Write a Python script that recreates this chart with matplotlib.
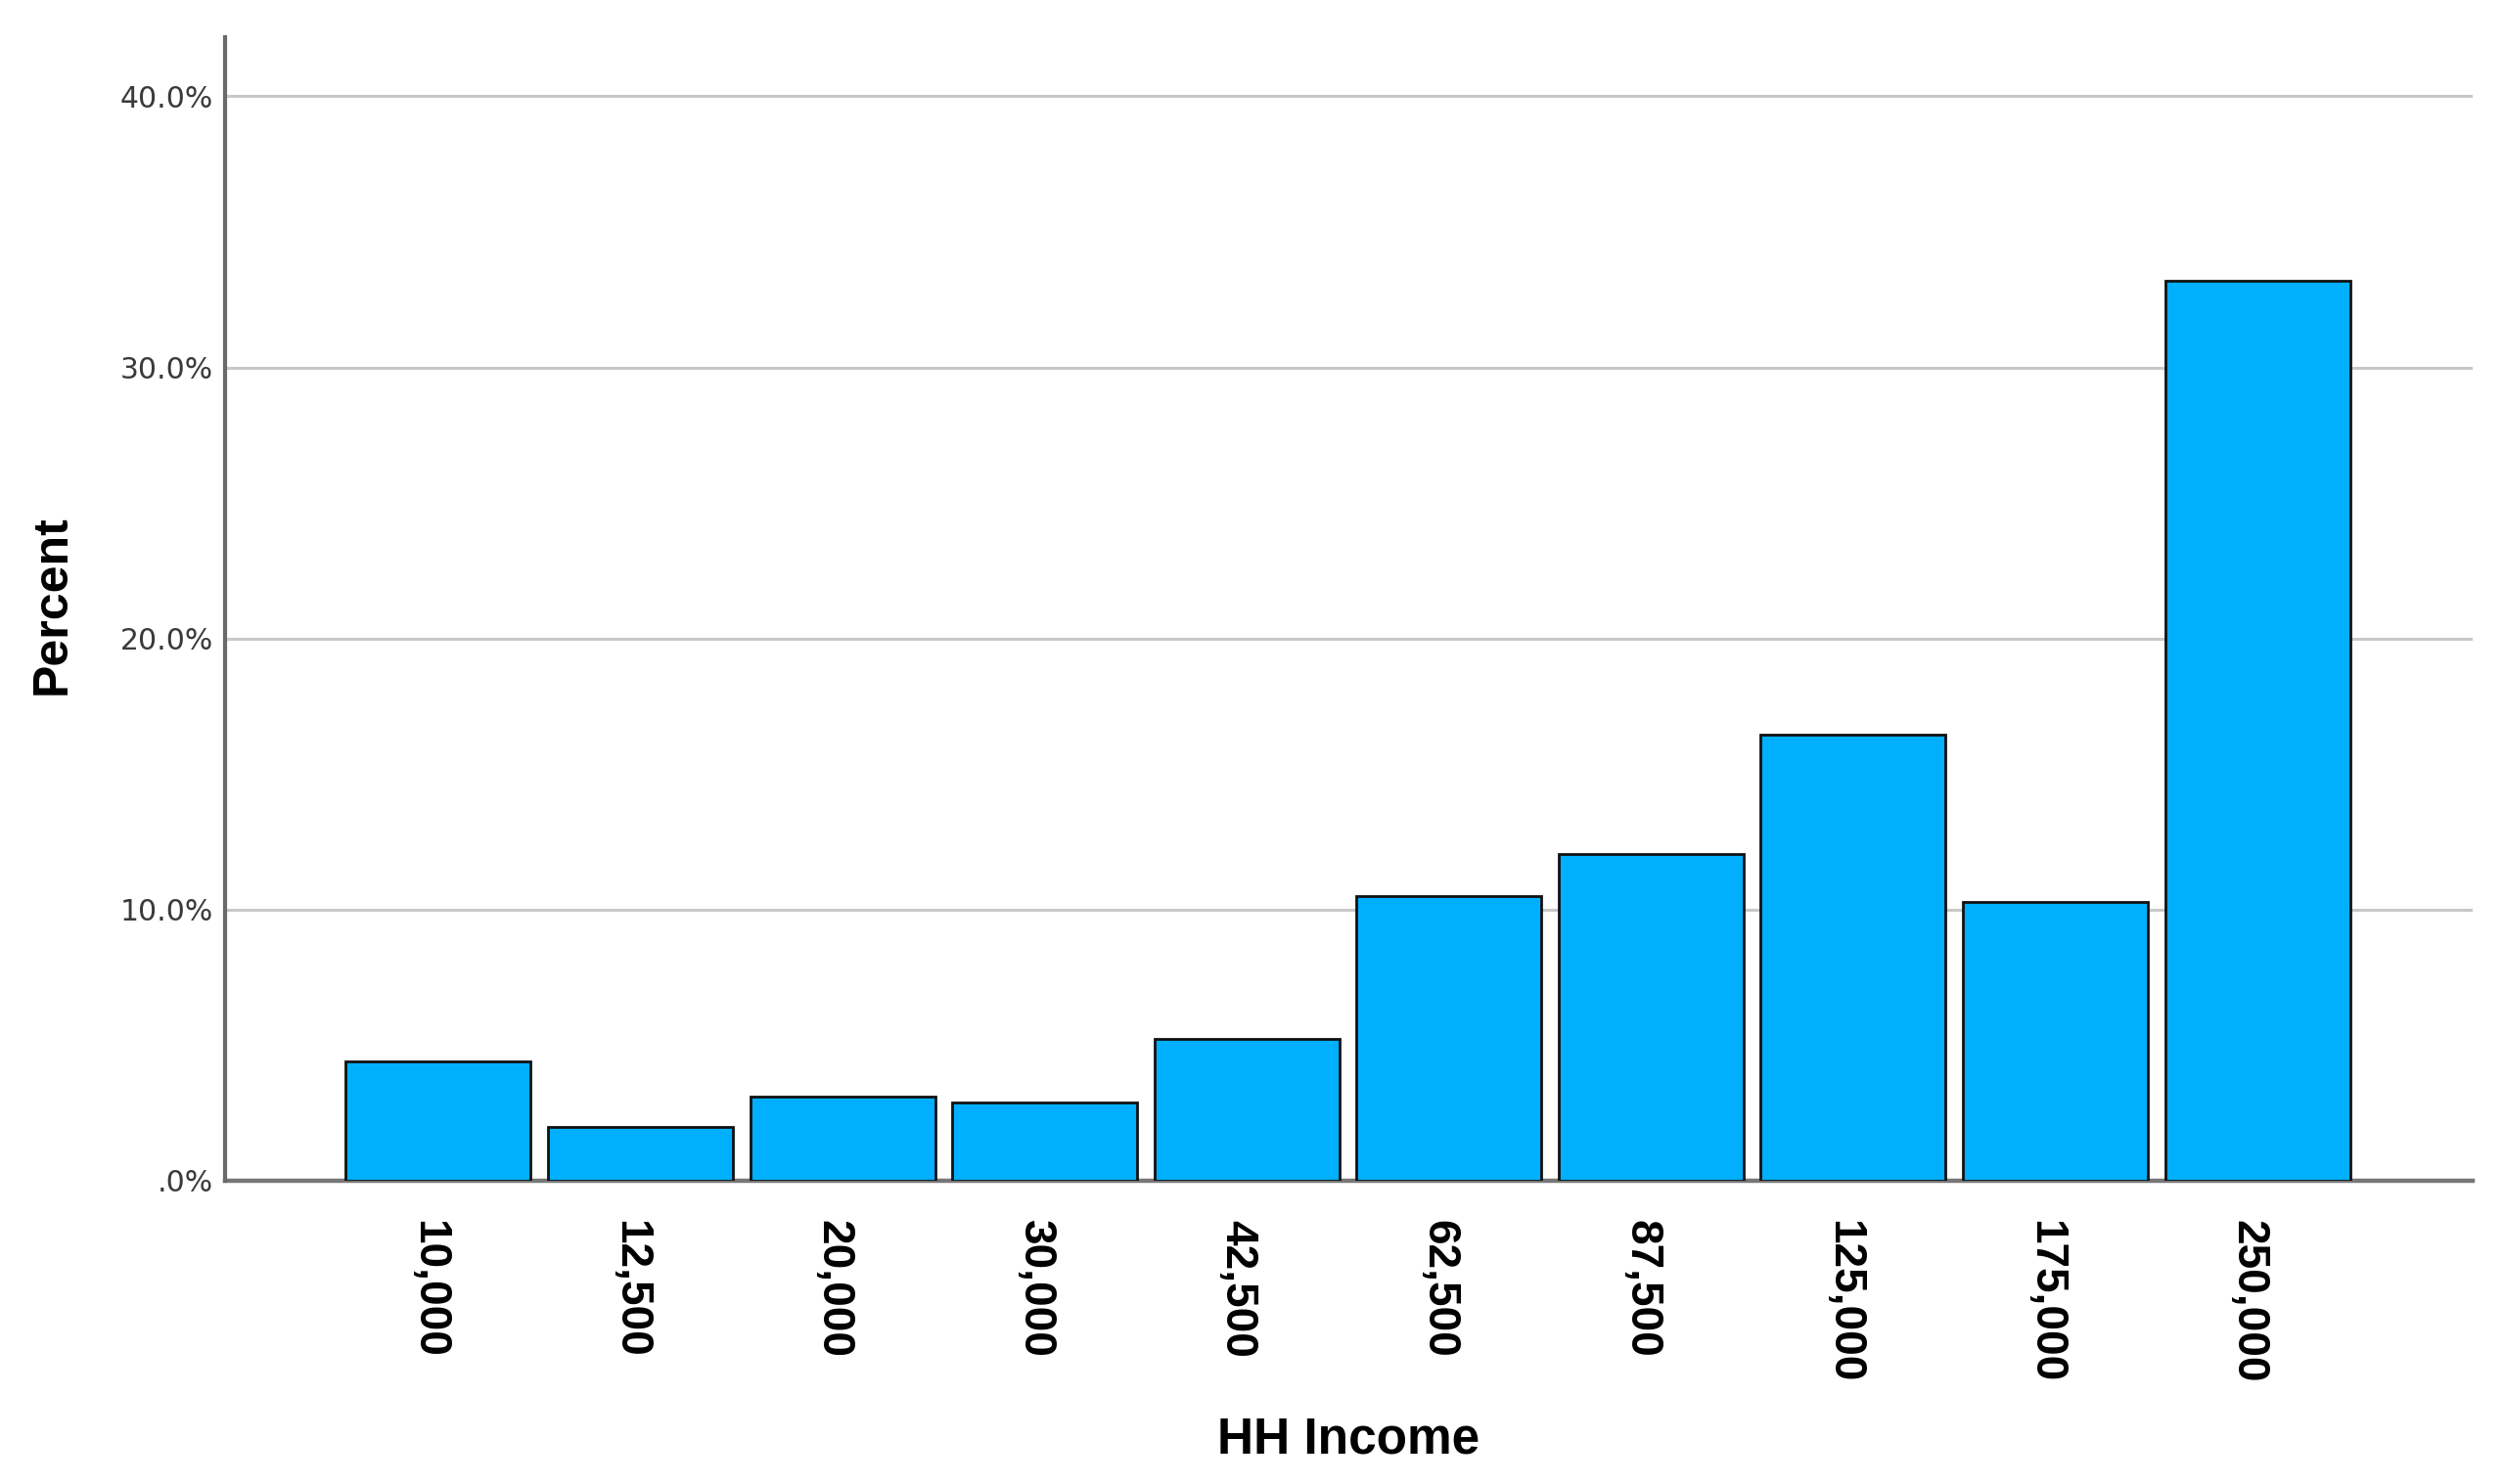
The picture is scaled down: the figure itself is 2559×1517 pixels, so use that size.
import matplotlib
matplotlib.use("Agg")
import matplotlib.pyplot as plt
import matplotlib.transforms as mtransforms

categories = ["10,000", "12,500", "20,000", "30,000", "42,500",
              "62,500", "87,500", "125,000", "175,000", "250,000"]
percents = [4.4, 2.0, 3.1, 2.9, 5.25, 10.5, 12.05, 16.45, 10.3, 33.2]
ytick_values = [0, 10, 20, 30, 40]
ytick_labels = [".0%", "10.0%", "20.0%", "30.0%", "40.0%"]
x_title = "HH Income"
y_title = "Percent"

W, H = 2559, 1517
fig = plt.figure(figsize=(W / 100, H / 100), dpi=100)
ax = fig.add_axes([230 / W, (H - 1207) / H, 2297 / W, (1207 - 37.5) / H])

x = list(range(len(categories)))
ax.bar(x, percents, width=0.915, color="#00b0ff", edgecolor="#111111",
       linewidth=2.0, zorder=3)

ax.set_xlim(-1.055, len(categories) - 1 + 1.065)
ax.set_ylim(0, 42.2)

ax.set_yticks(ytick_values)
ax.set_yticklabels(ytick_labels, family="DejaVu Sans", fontsize=21.5, color="#3a3a3a")
ax.tick_params(axis="y", length=0, pad=8.6)

ax.set_xticks(x)
ax.set_xticklabels(categories, rotation=270, family=["Liberation Sans", "DejaVu Sans"],
                   fontweight="bold", fontsize=33, color="black", va="top", ha="center")
ax.tick_params(axis="x", length=0, pad=29)
shift = mtransforms.ScaledTranslation(-10 / 100, 0, fig.dpi_scale_trans)
for lbl in ax.get_xticklabels():
    lbl.set_transform(lbl.get_transform() + shift)

ax.grid(axis="y", color="#c8c8c8", linewidth=2.2, zorder=0)
ax.set_axisbelow(True)

for s in ["top", "right"]:
    ax.spines[s].set_visible(False)
ax.spines["left"].set_color("#6a6a6a")
ax.spines["left"].set_linewidth(3.0)
ax.spines["bottom"].set_color("#777777")
ax.spines["bottom"].set_linewidth(3.2)
ax.spines["bottom"].set_zorder(2)

ax.text(0.5, -(1472 - 1207) / (1207 - 37.5), x_title, transform=ax.transAxes,
        ha="center", va="center", fontsize=37, fontweight="bold",
        family=["Liberation Sans", "DejaVu Sans"], color="black")
ax.text((54 - 230) / 2297, (1207 - 618) / (1207 - 37.5), y_title, transform=ax.transAxes,
        ha="center", va="center", rotation=90, fontsize=36, fontweight="bold",
        family=["Liberation Sans", "DejaVu Sans"], color="black")

fig.savefig("out.png", dpi=100, facecolor="white")
